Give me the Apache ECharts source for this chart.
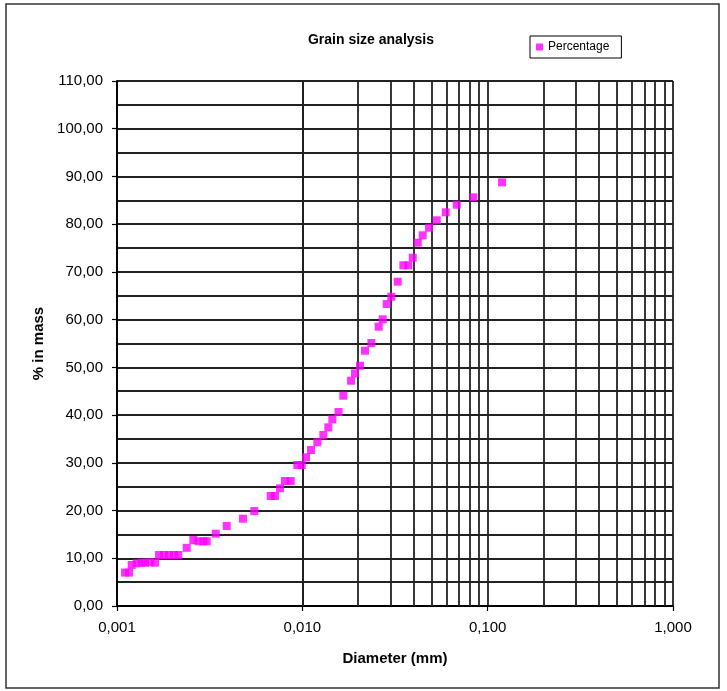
<!DOCTYPE html>
<html>
<head>
<meta charset="utf-8">
<script src="https://cdn.jsdelivr.net/npm/echarts@6/dist/echarts.min.js"></script>
<style>
  html, body { margin: 0; padding: 0; background: #fff; }
  #chart { width: 727px; height: 691px; }
</style>
</head>
<body>
<div id="chart"></div>
<script>
// values (diameter in mm, % in mass)
const diameter = [
  0.001105, 0.001161, 0.001200, 0.001277, 0.001359, 0.001416, 0.001507, 0.001604,
  0.001686, 0.001793, 0.001908, 0.002030, 0.002142, 0.002378, 0.002581, 0.002747,
  0.002923, 0.003049, 0.003410, 0.003908, 0.004786, 0.005508,
  0.006753, 0.007124, 0.007580, 0.008065, 0.008659, 0.009398, 0.009926, 0.01047,
  0.01114, 0.01205, 0.01298, 0.01381, 0.01452, 0.01568,
  0.01664, 0.01832, 0.01924, 0.02047, 0.02179, 0.02357, 0.02582, 0.02714,
  0.02853, 0.03021, 0.03271,
  0.03508, 0.03733, 0.03943, 0.04195, 0.04463, 0.04827, 0.05311, 0.05940,
  0.06813, 0.08370, 0.1196
]
const percentage = [
  7.0, 7.0, 8.59, 8.95, 9.07, 9.07, 9.16, 9.07,
  10.69, 10.69, 10.69, 10.69, 10.69, 12.2, 13.83, 13.56,
  13.56, 13.56, 15.15, 16.76, 18.29, 19.9,
  23.05, 23.05, 24.66, 26.19, 26.19, 29.54, 29.54, 31.15,
  32.68, 34.3, 35.83, 37.44, 39.1, 40.65,
  44.06, 47.2, 48.75, 50.35, 53.49, 55.1, 58.52, 60.07,
  63.27, 64.8, 67.95,
  71.38, 71.38, 72.97, 76.12, 77.67, 79.26, 80.81, 82.48,
  84.08, 85.63, 88.77
]
// minor vertical gridlines of the log axis (2..9 in each decade)
const xMinorGrid = [
  0.002, 0.003, 0.004, 0.005, 0.006, 0.007, 0.008, 0.009,
  0.02, 0.03, 0.04, 0.05, 0.06, 0.07, 0.08, 0.09,
  0.2, 0.3, 0.4, 0.5, 0.6, 0.7, 0.8, 0.9
]

let myChart = echarts.init(document.getElementById('chart'))
const font = 'Liberation Sans, Arial, sans-serif'
const gridLine = { color: '#222', width: 1.8 }

myChart.setOption({
  animation: false,
  textStyle: { fontFamily: font, color: '#000' },
  title: {
    text: 'Grain size analysis',
    left: 366,
    textAlign: 'center',
    top: 28,
    textStyle: { fontFamily: font, fontSize: 14, fontWeight: 'bold', color: '#000' }
  },
  legend: {
    left: 530,
    top: 36,
    padding: [5, 12, 5, 6],
    borderColor: '#000',
    borderWidth: 1,
    itemWidth: 7,
    itemHeight: 7,
    icon: 'rect',
    textStyle: { fontFamily: font, fontSize: 12, color: '#000' },
    data: ['Percentage']
  },
  grid: { left: 117, right: 54, top: 81, bottom: 85 },
  xAxis: {
    type: 'log',
    logBase: 10,
    min: 0.001,
    max: 1,
    name: 'Diameter (mm)',
    nameLocation: 'middle',
    nameGap: 45,
    nameTextStyle: { fontFamily: font, fontSize: 15, fontWeight: 'bold', color: '#000' },
    axisLine: { lineStyle: { color: '#000', width: 1.8 } },
    axisTick: { show: true, inside: false, length: 5, lineStyle: { color: '#000', width: 1.2 } },
    axisLabel: {
      fontFamily: font,
      fontSize: 15,
      color: '#000',
      margin: 14,
      formatter: function (v) { return v.toFixed(3).replace('.', ',') }
    },
    splitLine: { show: true, lineStyle: gridLine }
  },
  yAxis: {
    type: 'value',
    min: 0,
    max: 110,
    interval: 10,
    name: '% in mass',
    nameLocation: 'middle',
    nameGap: 62,
    nameTextStyle: { fontFamily: font, fontSize: 15, fontWeight: 'bold', color: '#000' },
    axisLine: { show: true, lineStyle: { color: '#000', width: 1.8 } },
    axisTick: { show: true, inside: false, length: 5, lineStyle: { color: '#000', width: 1.2 } },
    axisLabel: {
      fontFamily: font,
      fontSize: 15,
      color: '#000',
      margin: 14,
      formatter: function (v) { return v.toFixed(2).replace('.', ',') }
    },
    splitLine: { show: true, lineStyle: gridLine },
    minorTick: { show: false, splitNumber: 2 },
    minorSplitLine: { show: true, lineStyle: gridLine }
  },
  graphic: [
    {
      type: 'rect',
      shape: { x: 6, y: 4, width: 713, height: 684 },
      style: { fill: 'none', stroke: '#333', lineWidth: 1.5 },
      silent: true
    }
  ],
  series: [
    {
      // carries the minor log gridlines
      type: 'line',
      data: [],
      z: 1,
      silent: true,
      markLine: {
        silent: true,
        symbol: 'none',
        label: { show: false },
        lineStyle: { type: 'solid', color: gridLine.color, width: gridLine.width },
        data: xMinorGrid.map(function (v) { return { xAxis: v } })
      }
    },
    {
      name: 'Percentage',
      type: 'scatter',
      z: 5,
      symbol: 'rect',
      symbolSize: 8,
      itemStyle: { color: '#FF00FF' },
      data: diameter.map(function (d, i) { return [d, percentage[i]] })
    }
  ]
})
</script>
</body>
</html>
